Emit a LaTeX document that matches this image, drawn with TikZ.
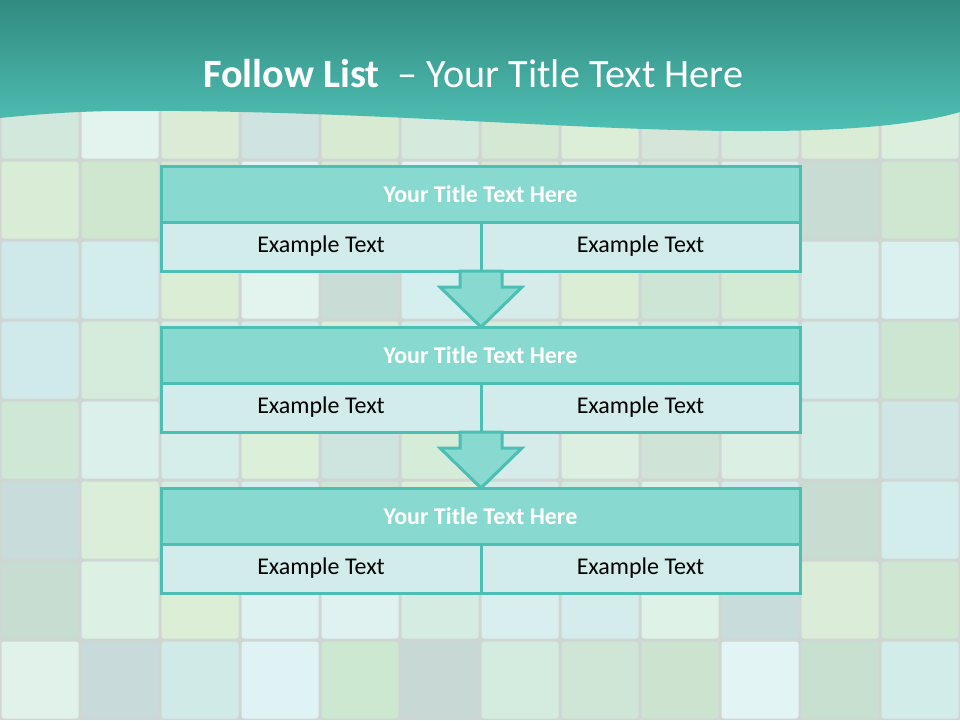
\documentclass[tikz,border=0pt]{standalone}
\usepackage{fontspec}
\setmainfont{Carlito}
\usetikzlibrary{calc}
\definecolor{gapgray}{HTML}{D0D6D3}
\definecolor{hdtop}{HTML}{318B81}
\definecolor{hdbot}{HTML}{50C0B4}
\definecolor{tealline}{HTML}{4BBFB3}
\definecolor{cellhead}{HTML}{88D9CF}
\definecolor{cellbody}{HTML}{D2ECEC}
\begin{document}
\begin{tikzpicture}[x=1pt,y=-1pt,
  frame/.style={draw=tealline, line width=3pt},
  titlecell/.style={frame, fill=cellhead, minimum width=639pt, minimum height=56pt,
    inner sep=0pt, outer sep=0pt, anchor=north west, text=white,
    font=\fontsize{24}{28}\selectfont\bfseries},
  excell/.style={frame, fill=cellbody, minimum width=320pt, minimum height=49pt,
    inner sep=0pt, outer sep=0pt, anchor=north west, text=black,
    font=\fontsize{24}{28}\selectfont},
  downarrow/.style={frame, fill=cellhead, line join=miter},
  tile/.style={rounded corners=3pt}
]
\useasboundingbox (0,0) rectangle (960,720);
% background tiles
\fill[gapgray] (0,0) rectangle (960,720);
\foreach \r/\row in {
 0/{D2E8DC,E3F4EE,DCEBD6,CFE3E0,D9EAD3,D5EADD,D5E8D3,DCEDD8,D5E6D8,D6EADB,DBECD6,DCEFDF},
 1/{D2E8DC,E3F4EE,DCEBD6,CFE3E0,D9EAD3,D5EADD,D5E8D3,DCEDD8,D5E6D8,D6EADB,DBECD6,DCEFDF},
 2/{D9ECD6,CFE6CF,D5E8D8,E3F4F4,D5EAD8,E3F4F2,D5E8D8,DCEFEA,D9E8DC,DCEFE8,C9DCD3,CFE6D0},
 3/{CFE8EA,D3ECEC,DCEDD6,E3F4EE,CADCD6,D5EEEE,D5ECEA,DCEDD6,CDE5D5,D3EAD5,D7EEEA,DBF1F0},
 4/{D0E9EA,D5ECDC,D8EEE6,D5ECEA,DCEFD8,D3ECEC,D5ECD8,DCEFE5,D3ECE6,D5ECEA,D3ECEA,CDE6D1},
 5/{CFE7D5,DBF0EA,D5EEEA,DCEFD8,CDE4DF,D5ECD8,D5ECEA,DCEFE0,CFE3D6,DCEFE5,D3ECE6,D0E6E4},
 6/{C9DCDC,DBEEDA,D5ECE2,D9EFEF,CFE6D6,DCEFD8,D5ECEA,D3ECDF,DEF2E8,D5ECEC,C9DCD2,D3ECEC},
 7/{C8DDD2,DCF0E4,DCEFD6,DEF2F2,E0F2F0,D5ECE2,D9EFEF,D5ECEC,DEF2E8,C9DCDC,DBEDD9,CFE6D2},
 8/{E0F2EA,C8DADA,D0EAE8,DFF2F4,CDE8D0,C8D8D4,D3ECDF,CFE6D6,CCE3D0,E2F4F4,C8E0CF,D2ECEA}}{
  \foreach \hex [count=\c from 0] in \row {
    \definecolor{tc}{HTML}{\hex}
    \fill[tc, tile] ({80*\c+1.5},{80*\r+1.5}) rectangle ++(77,77);
  }
}
% header band
\shade[top color=hdtop, bottom color=hdbot]
  (0,0) -- (960,0) -- (960,112)
  .. controls (920,124) and (850,131) .. (760,131)
  .. controls (600,132) and (400,113) .. (180,111)
  .. controls (100,110) and (60,112) .. (0,118) -- cycle;
\node[anchor=base west, text=white, inner sep=0pt,
  font=\fontsize{40.2}{46}\selectfont] (maintitle) at (203,87)
  {\textbf{Follow List}\ \ – Your Title Text Here};
% block 1
\node[titlecell] (T1) at (161,166) {Your Title Text Here};
\node[excell] (L1) at (T1.south west) {Example Text};
\node[excell, minimum width=319pt] (R1) at (L1.north east) {Example Text};
% block 2
\node[titlecell] (T2) at (161,327) {Your Title Text Here};
\node[excell] (L2) at (T2.south west) {Example Text};
\node[excell, minimum width=319pt] (R2) at (L2.north east) {Example Text};
% block 3
\node[titlecell] (T3) at (161,488) {Your Title Text Here};
\node[excell] (L3) at (T3.south west) {Example Text};
\node[excell, minimum width=319pt] (R3) at (L3.north east) {Example Text};
% arrows
\draw[downarrow] ($(L1.south east)+(-21,0)$) -- ++(0,16) -- ++(-20,0)
  -- (L1.south east |- T2.north) -- ++(41,-40) -- ++(-20,0) -- ++(0,-16) -- cycle;
\draw[downarrow] ($(L2.south east)+(-21,0)$) -- ++(0,16) -- ++(-20,0)
  -- (L2.south east |- T3.north) -- ++(41,-40) -- ++(-20,0) -- ++(0,-16) -- cycle;
\end{tikzpicture}
\end{document}
